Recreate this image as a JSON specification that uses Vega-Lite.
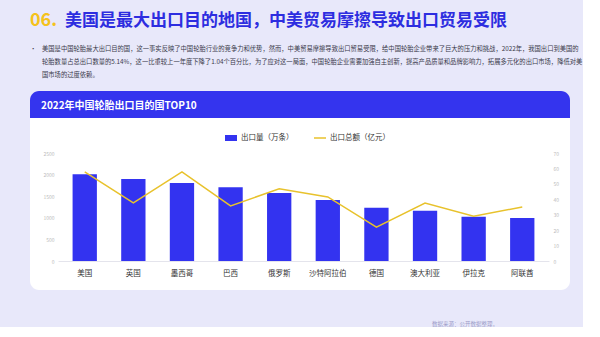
{
  "$schema": "https://vega.github.io/schema/vega-lite/v6.json",
  "background": "#e8e8fa",
  "padding": {"left": 30, "top": 11, "right": 0, "bottom": 0},
  "config": {
    "view": {"stroke": null},
    "font": "Noto Sans CJK SC",
    "title": {"baseline": "top", "anchor": "start", "frame": "group"}
  },
  "spacing": 0,
  "vconcat": [
    {
      "spacing": 7,
      "hconcat": [
        {
          "width": 1, "height": 1,
          "title": {"text": "06.", "color": "#f5c21b", "fontSize": 18, "fontWeight": "bold", "offset": 5},
          "data": {"values": [{}]},
          "mark": {"type": "text"},
          "encoding": {}
        },
        {
          "width": 1, "height": 1,
          "title": {"text": "美国是最大出口目的地国，中美贸易摩擦导致出口贸易受限", "color": "#2d2de0", "fontSize": 17, "fontWeight": "bold", "offset": 5},
          "data": {"values": [{}]},
          "mark": {"type": "text"},
          "encoding": {}
        }
      ]
    },
    {
      "spacing": 5,
      "hconcat": [
        {
          "width": 1, "height": 1,
          "title": {"text": "•", "color": "#3a3a4a", "fontSize": 6.3, "fontWeight": "normal", "offset": 27},
          "data": {"values": [{}]},
          "mark": {"type": "text"},
          "encoding": {}
        },
        {
          "width": 1, "height": 1,
          "title": {
            "text": [
              "美国是中国轮胎最大出口目的国，这一事实反映了中国轮胎行业的竞争力和优势，然而，中美贸易摩擦导致出口贸易受限，给中国轮胎企业带来了巨大的压力和挑战，2022年，我国出口到美国的",
              "轮胎数量占总出口数量的5.14%，这一比重较上一年度下降了1.04个百分比，为了应对这一局面，中国轮胎企业需要加强自主创新，提高产品质量和品牌影响力，拓展多元化的出口市场，降低对美",
              "国市场的过度依赖。"
            ],
            "color": "#3a3a4a", "fontSize": 6.3, "fontWeight": "normal", "lineHeight": 13, "offset": 1
          },
          "data": {"values": [{}]},
          "mark": {"type": "text"},
          "encoding": {}
        }
      ]
    },
    {
      "width": 540, "height": 199,
      "view": {
        "cornerRadius": 9,
        "fill": {
          "gradient": "linear", "x1": 0, "y1": 0, "x2": 0, "y2": 1,
          "stops": [
            {"offset": 0, "color": "#3434ee"},
            {"offset": 0.1357, "color": "#3434ee"},
            {"offset": 0.1357, "color": "#ffffff"},
            {"offset": 1, "color": "#ffffff"}
          ]
        }
      },
      "title": {"text": "2022年中国轮胎出口目的国TOP10", "color": "#ffffff", "fontSize": 10, "fontWeight": "bold", "offset": -20, "dx": 11},
      "data": {
        "values": [
          {"country": "美国", "qty": 2010, "amt": 57.7},
          {"country": "英国", "qty": 1900, "amt": 37.7},
          {"country": "墨西哥", "qty": 1805, "amt": 57.7},
          {"country": "巴西", "qty": 1710, "amt": 35.7},
          {"country": "俄罗斯", "qty": 1575, "amt": 46.8},
          {"country": "沙特阿拉伯", "qty": 1410, "amt": 41.5},
          {"country": "德国", "qty": 1230, "amt": 22.0},
          {"country": "澳大利亚", "qty": 1165, "amt": 37.6},
          {"country": "伊拉克", "qty": 1025, "amt": 29.0},
          {"country": "阿联酋", "qty": 995, "amt": 35.0}
        ]
      },
      "encoding": {
        "x": {
          "field": "country", "type": "nominal", "sort": null,
          "scale": {"range": [28, 519], "paddingInner": 0.5, "paddingOuter": 0.3},
          "axis": {"title": null, "labelAngle": 0, "ticks": false, "domainColor": "#e4e4ec", "labelFontSize": 7.5, "labelColor": "#333333", "labelPadding": 8, "offset": -29}
        }
      },
      "layer": [
        {
          "mark": {"type": "bar"},
          "encoding": {
            "y": {
              "field": "qty", "type": "quantitative",
              "scale": {"domain": [0, 2500], "range": [170, 62], "nice": false},
              "axis": {"title": null, "orient": "left", "values": [0, 500, 1000, 1500, 2000, 2500], "format": "d", "grid": false, "ticks": false, "domain": false, "labelFontSize": 5, "labelColor": "#bbbbbb", "labelPadding": 3, "offset": -27}
            },
            "color": {
              "datum": "出口量（万条）",
              "scale": {"range": ["#3333f0"]},
              "legend": {"title": null, "orient": "none", "legendX": 194, "legendY": 91, "direction": "horizontal", "symbolType": "M-1,-0.5H1V0.5H-1Z", "symbolSize": 144, "symbolOpacity": 1, "labelFontSize": 7.5, "labelColor": "#333333", "labelOffset": 3, "padding": 0}
            }
          }
        },
        {
          "mark": {"type": "line", "strokeWidth": 1.5},
          "encoding": {
            "y": {
              "field": "amt", "type": "quantitative",
              "scale": {"domain": [0, 70], "range": [170, 62], "nice": false},
              "axis": {"title": null, "orient": "right", "values": [0, 10, 20, 30, 40, 50, 60, 70], "grid": false, "ticks": false, "domain": false, "labelFontSize": 5, "labelColor": "#bbbbbb", "labelPadding": 6, "offset": -23}
            },
            "stroke": {
              "datum": "出口总额（亿元）",
              "scale": {"range": ["#e8c22c"]},
              "legend": {"title": null, "orient": "none", "legendX": 283, "legendY": 91, "direction": "horizontal", "symbolType": "stroke", "symbolSize": 144, "symbolStrokeWidth": 1.5, "labelFontSize": 7.5, "labelColor": "#333333", "labelOffset": 3, "padding": 0}
            }
          }
        }
      ],
      "resolve": {"scale": {"y": "independent"}}
    },
    {
      "width": 1, "height": 1,
      "title": {"text": "数据来源：公开数据整理，", "orient": "bottom", "color": "#9d9dc9", "fontSize": 5.5, "fontWeight": "normal", "offset": 20, "dx": 402},
      "data": {"values": [{}]},
      "mark": {"type": "text"},
      "encoding": {}
    }
  ]
}
